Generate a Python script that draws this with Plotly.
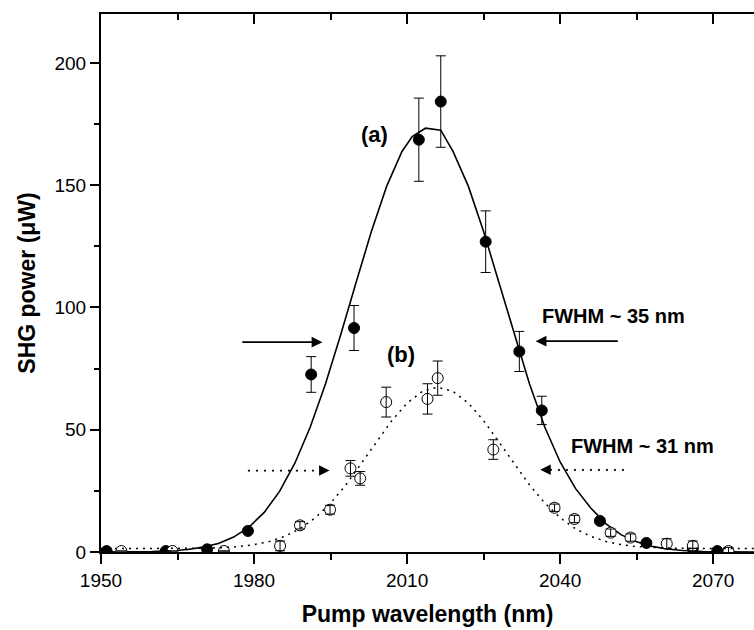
import plotly.graph_objects as go

# ---- data ----
a_x = [1951.1, 1962.7, 1970.8, 1978.8, 1991.2, 1999.6, 2012.3, 2016.6, 2025.4, 2032.0, 2036.4, 2047.8, 2056.9, 2066.0, 2070.8]
a_y = [0.4, 0.4, 1.1, 8.6, 72.6, 91.6, 168.6, 184.2, 126.9, 82.0, 57.9, 12.7, 3.7, 1.5, 0.4]
a_err = [0, 0, 0, 0, 7.3, 9.2, 17.0, 18.7, 12.6, 8.2, 5.8, 1.0, 0.5, 0, 0]

b_x = [1954.0, 1964.0, 1974.1, 1985.1, 1989.0, 1994.9, 1998.9, 2000.8, 2005.9, 2014.0, 2016.0, 2026.9, 2038.9, 2042.8, 2049.9, 2053.8, 2060.9, 2066.0, 2073.0]
b_y = [0.4, 0.4, 0.4, 2.5, 10.9, 17.3, 34.2, 30.1, 61.3, 62.6, 71.1, 41.9, 18.1, 13.5, 7.9, 5.9, 3.4, 2.5, 0.4]
b_err = [0, 0, 0, 2.0, 1.5, 1.8, 3.2, 2.8, 6.1, 6.2, 7.0, 4.0, 1.5, 1.5, 1.5, 1.5, 2.0, 2.0, 1.5]

fit_a_x = [1950, 1955, 1960, 1964, 1967, 1970, 1973, 1976, 1979, 1982, 1985, 1988, 1991, 1994, 1997,
           2000, 2003, 2006, 2009, 2011, 2013.6, 2016.6, 2019, 2022, 2025, 2028, 2031, 2034, 2037,
           2040, 2043, 2046, 2049, 2052, 2055, 2058, 2061, 2064, 2068, 2072, 2078]
fit_a_y = [0, 0.05, 0.2, 0.5, 1.0, 2.0, 3.5, 6.1, 10.2, 16.2, 24.8, 36.3, 51.0, 68.7, 88.9,
           110.2, 131.1, 149.6, 163.8, 169.9, 173.3, 172.5, 163.8, 149.6, 131.1, 110.2, 88.9, 68.7, 51.0,
           36.8, 26.0, 18.0, 11.5, 7.0, 4.2, 2.3, 1.2, 0.6, 0.2, 0.05, 0]

fit_b_x = [1950, 1960, 1965, 1970, 1974, 1977, 1980, 1983, 1986, 1989, 1992, 1995, 1998, 2001, 2004,
           2007, 2010, 2013, 2016, 2019, 2022, 2025, 2028, 2031, 2034, 2037, 2040, 2043, 2046, 2049,
           2052, 2055, 2058, 2062, 2067, 2078]
fit_b_y = [1.4, 1.4, 1.44, 1.55, 1.8, 2.2, 3.0, 4.3, 6.4, 9.5, 14.0, 20.0, 27.4, 36.0, 45.0,
           53.7, 60.9, 65.7, 67.4, 65.7, 60.9, 53.7, 45.0, 36.0, 27.4, 20.0, 14.0, 9.5, 6.4, 4.3,
           3.0, 2.2, 1.8, 1.55, 1.44, 1.4]

x_ticks = [1950, 1980, 2010, 2040, 2070]
y_ticks = [0, 50, 100, 150, 200]

FONT = "Liberation Sans, Arial, sans-serif"

fig = go.Figure()

# fit curves (dotted one on the top axis, which shares the same range)
fig.add_trace(go.Scatter(x=fit_a_x, y=fit_a_y, mode="lines",
                         line=dict(color="black", width=1.6), hoverinfo="skip"))
fig.add_trace(go.Scatter(x=fit_b_x, y=fit_b_y, mode="lines", xaxis="x2", yaxis="y",
                         line=dict(color="black", width=1.5, dash="2px,5px"), hoverinfo="skip"))

# data markers
fig.add_trace(go.Scatter(x=a_x, y=a_y, mode="markers",
                         marker=dict(symbol="circle", size=11, color="black",
                                     line=dict(color="black", width=1))))
fig.add_trace(go.Scatter(x=b_x, y=b_y, mode="markers",
                         marker=dict(symbol="circle", size=11, color="white",
                                     line=dict(color="black", width=1))))

# error bars drawn on top of the markers
for xs, ys, es in [(a_x, a_y, a_err), (b_x, b_y, b_err)]:
    fig.add_trace(go.Scatter(x=xs, y=ys, mode="markers",
                             marker=dict(size=1, color="rgba(0,0,0,0)"),
                             error_y=dict(type="data", array=es, visible=True,
                                          color="black", thickness=1, width=5),
                             hoverinfo="skip"))

# dotted arrow shafts
fig.add_shape(type="line", x0=1978.8, y0=33.3, x1=1993.0, y1=33.3, xref="x", yref="y",
              line=dict(color="black", width=1.8, dash="2px,6px"))
fig.add_shape(type="line", x0=2038.0, y0=33.6, x1=2052.5, y1=33.6, xref="x", yref="y",
              line=dict(color="black", width=1.8, dash="2px,6px"))

annotations = [
    dict(x=2003.7, y=170.9, text="(a)", showarrow=False, font=dict(size=22, family=FONT, color="black", weight="bold")),
    dict(x=2008.9, y=80.7, text="(b)", showarrow=False, font=dict(size=22, family=FONT, color="black", weight="bold")),
    dict(x=2036.1, y=96.5, text="FWHM ~ 35 nm", showarrow=False, xanchor="left",
         font=dict(size=20, family=FONT, color="black", weight="bold")),
    dict(x=2041.8, y=43.5, text="FWHM ~ 31 nm", showarrow=False, xanchor="left",
         font=dict(size=20, family=FONT, color="black", weight="bold")),
    # solid arrows
    dict(x=1993.4, y=85.8, ax=1977.4, ay=85.8, axref="x", ayref="y", text="", showarrow=True,
         arrowhead=2, arrowsize=1.2, arrowwidth=1.8, arrowcolor="black", standoff=0),
    dict(x=2035.2, y=86.2, ax=2051.6, ay=86.2, axref="x", ayref="y", text="", showarrow=True,
         arrowhead=2, arrowsize=1.2, arrowwidth=1.8, arrowcolor="black", standoff=0),
    # dotted arrow heads
    dict(x=1994.8, y=33.3, ax=1992.8, ay=33.3, axref="x", ayref="y", text="", showarrow=True,
         arrowhead=2, arrowsize=1.4, arrowwidth=1.5, arrowcolor="black", standoff=0),
    dict(x=2036.1, y=33.6, ax=2038.1, ay=33.6, axref="x", ayref="y", text="", showarrow=True,
         arrowhead=2, arrowsize=1.4, arrowwidth=1.5, arrowcolor="black", standoff=0),
]

fig.update_layout(
    width=754, height=630,
    margin=dict(l=101, r=0, t=14, b=78),
    paper_bgcolor="white", plot_bgcolor="white",
    showlegend=False,
    font=dict(family=FONT, color="black"),
    annotations=annotations,
    xaxis=dict(range=[1950, 2078], tickvals=x_ticks, ticktext=[str(v) for v in x_ticks],
               ticks="outside", ticklen=10, tickwidth=2, tickcolor="black",
               minor=dict(dtick=15, tick0=1950, ticks="outside", ticklen=6, tickwidth=2, tickcolor="black"),
               showline=True, linewidth=2, linecolor="black", showgrid=False, zeroline=False,
               tickfont=dict(size=19, family=FONT, color="black"),
               automargin=False,
               title=dict(text="Pump wavelength (nm)", font=dict(size=23, family=FONT, color="black", weight="bold"),
                          standoff=16)),
    xaxis2=dict(range=[1950, 2078], overlaying="x", side="top", anchor="y",
                tickvals=x_ticks, ticks="inside", ticklen=10, tickwidth=2, tickcolor="black",
                minor=dict(dtick=15, tick0=1950, ticks="inside", ticklen=6, tickwidth=2, tickcolor="black"),
                showline=True, linewidth=2, linecolor="black", showgrid=False, zeroline=False,
                showticklabels=False, automargin=False),
    yaxis=dict(range=[0, 220], tickvals=y_ticks, ticktext=[str(v) for v in y_ticks],
               ticks="outside", ticklen=9, tickwidth=2, tickcolor="black",
               minor=dict(dtick=25, tick0=0, ticks="outside", ticklen=5, tickwidth=2, tickcolor="black"),
               showline=True, linewidth=2, linecolor="black", showgrid=False, zeroline=False,
               tickfont=dict(size=19, family=FONT, color="black"),
               automargin=False,
               title=dict(text="SHG power (μW)", font=dict(size=23, family=FONT, color="black", weight="bold"),
                          standoff=12)),
)

fig.write_html("out.html", config={"displayModeBar": False},
               post_script="document.body.style.margin='0';")
